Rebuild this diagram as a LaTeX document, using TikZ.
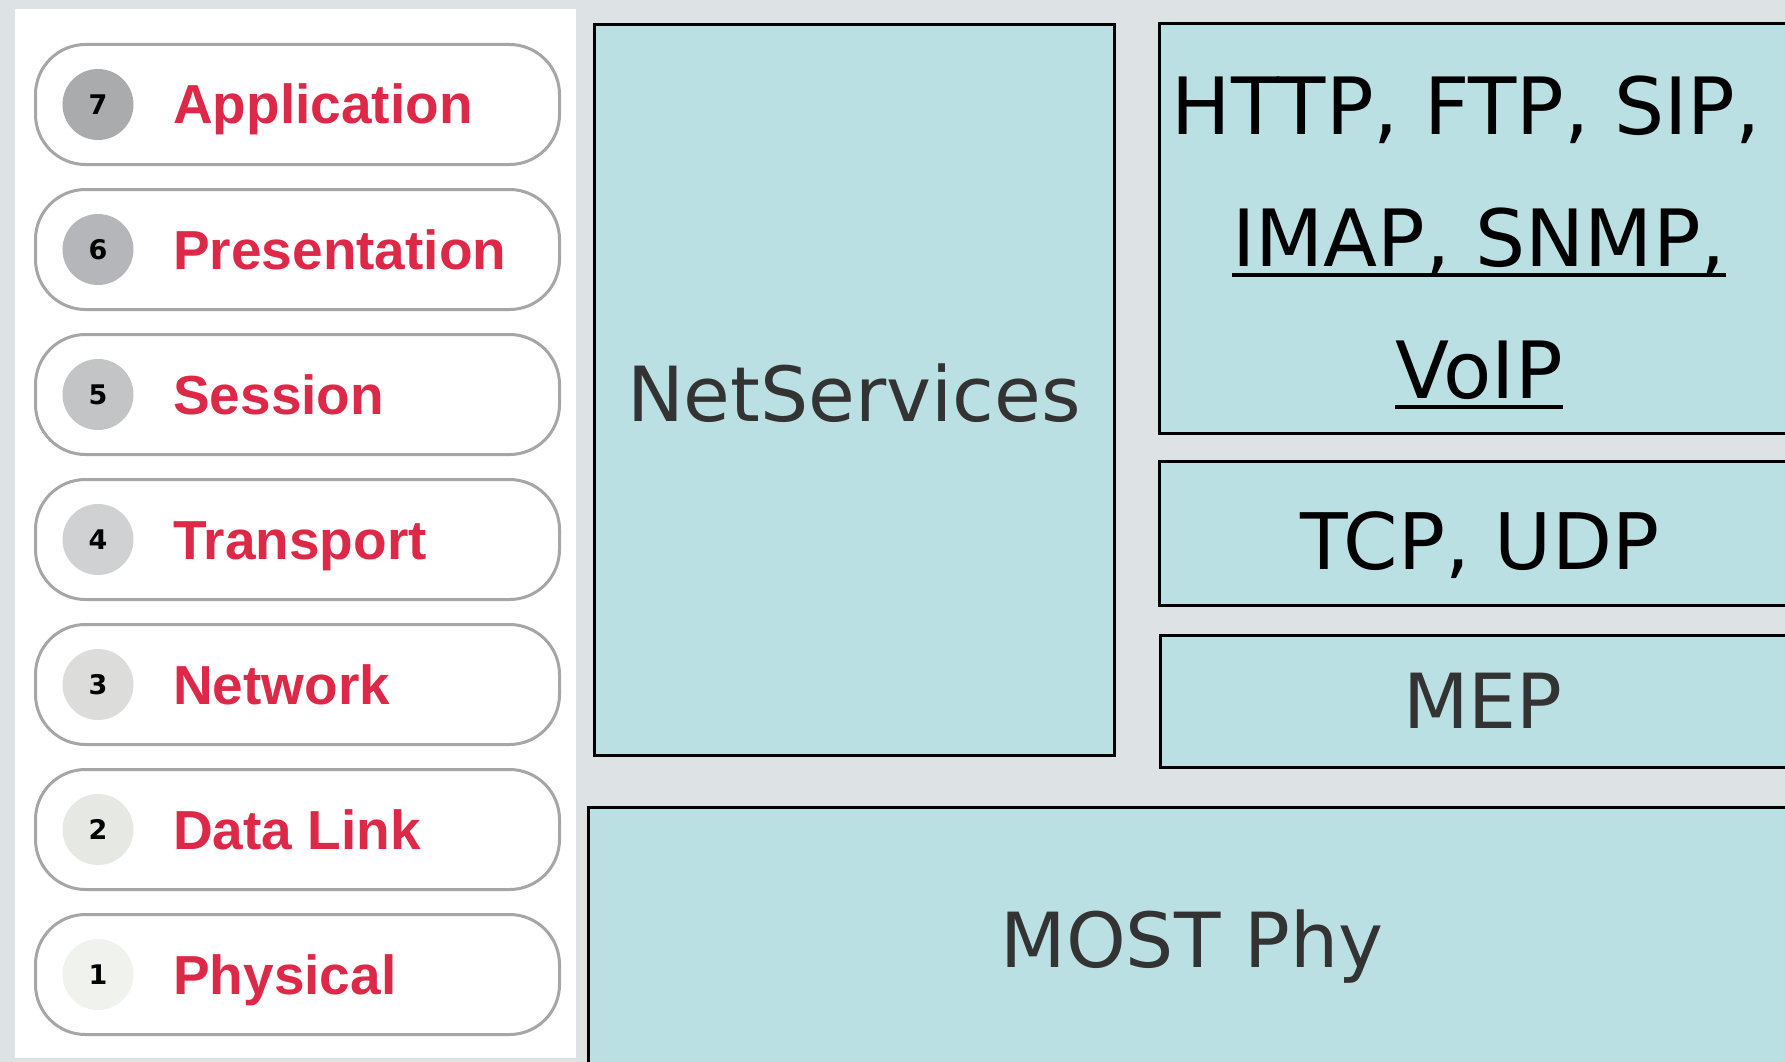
\documentclass[tikz,border=0pt]{standalone}
\usepackage{fontspec}
\setmainfont{DejaVu Sans}
\newfontfamily\layerfont{Liberation Sans}
\usepackage{xcolor,tikz}
\usetikzlibrary{positioning}
\definecolor{backgr}{HTML}{DDE2E5}
\definecolor{cyanbox}{HTML}{BBE0E3}
\definecolor{layred}{HTML}{DD2947}
\definecolor{pillgray}{HTML}{A6A6A6}
\definecolor{darktext}{HTML}{333333}
\definecolor{lay7}{HTML}{AAABAD}
\definecolor{lay6}{HTML}{B5B6B9}
\definecolor{lay5}{HTML}{C3C4C6}
\definecolor{lay4}{HTML}{D0D1D3}
\definecolor{lay3}{HTML}{DCDDDA}
\definecolor{lay2}{HTML}{E6E8E3}
\definecolor{lay1}{HTML}{F0F2EE}
\tikzset{
  pill/.style={draw=pillgray,line width=3pt,fill=white,rounded corners=50pt,
    minimum width=524pt,minimum height=120pt},
  badge/.style={circle,minimum size=71pt,inner sep=0pt,
    font=\bfseries\fontsize{27}{27}\selectfont},
  layertext/.style={inner sep=0pt,anchor=base west,text=layred,
    font=\layerfont\bfseries\fontsize{55}{55}\selectfont},
  cyanlayer/.style={draw=black,line width=3pt,fill=cyanbox,inner sep=0pt},
  boxtext/.style={inner sep=0pt,anchor=base,font=\fontsize{76}{76}\selectfont},
  apptext/.style={boxtext,font=\fontsize{79}{79}\selectfont},
  uline/.style={line width=4pt}
}
\begin{document}
\begin{tikzpicture}[x=1pt,y=-1pt]
\useasboundingbox (0,0) rectangle (1785,1062);
\clip (0,0) rectangle (1785,1062);
\fill[backgr] (0,0) rectangle (1785,1062);
\fill[white] (15,9) rectangle (576,1058);
% OSI layers
\foreach \n/\name [count=\i from 0] in {7/Application,6/Presentation,5/Session,4/Transport,3/Network,2/Data Link,1/Physical}{
\node[pill] (pill\n) at (297.5,104.5+145*\i) {};
\node[badge,fill=lay\n] (num\n) at (98,104.5+145*\i) {\n};
\node[layertext] (name\n) at (173,124+145*\i) {\name};
}
% MOST stack
\node[cyanlayer,minimum width=520.5pt,minimum height=730pt] (netsrv) at (854.25,390) {};
\node[boxtext,text=darktext] (netsrvtxt) at (854,421) {NetServices};
\node[cyanlayer,minimum width=651pt,minimum height=409pt] (appl) at (1484.5,228.5) {};
\node[apptext] (http) at (1466,135) {HTTP, FTP, SIP,};
\node[apptext] (imap) at (1479,266) {IMAP, SNMP,};
\node[apptext] (voip) at (1479,398) {VoIP};
\draw[uline] ([yshift=-9pt]imap.base west) -- ([yshift=-9pt]imap.base east);
\draw[uline] ([yshift=-9pt]voip.base west) -- ([yshift=-9pt]voip.base east);
\node[cyanlayer,minimum width=651pt,minimum height=144pt] (tcp) at (1484.5,533) {};
\node[boxtext,font=\fontsize{78}{78}\selectfont] (tcptxt) at (1480,569) {TCP, UDP};
\node[cyanlayer,minimum width=650pt,minimum height=132pt] (mep) at (1485,701) {};
\node[boxtext,text=darktext] (meptxt) at (1483,728.6) {MEP};
\node[cyanlayer,minimum width=1221.5pt,minimum height=268pt] (most) at (1199.25,941) {};
\node[boxtext,text=darktext] (mosttxt) at (1192,967.6) {MOST Phy};
\end{tikzpicture}
\end{document}
